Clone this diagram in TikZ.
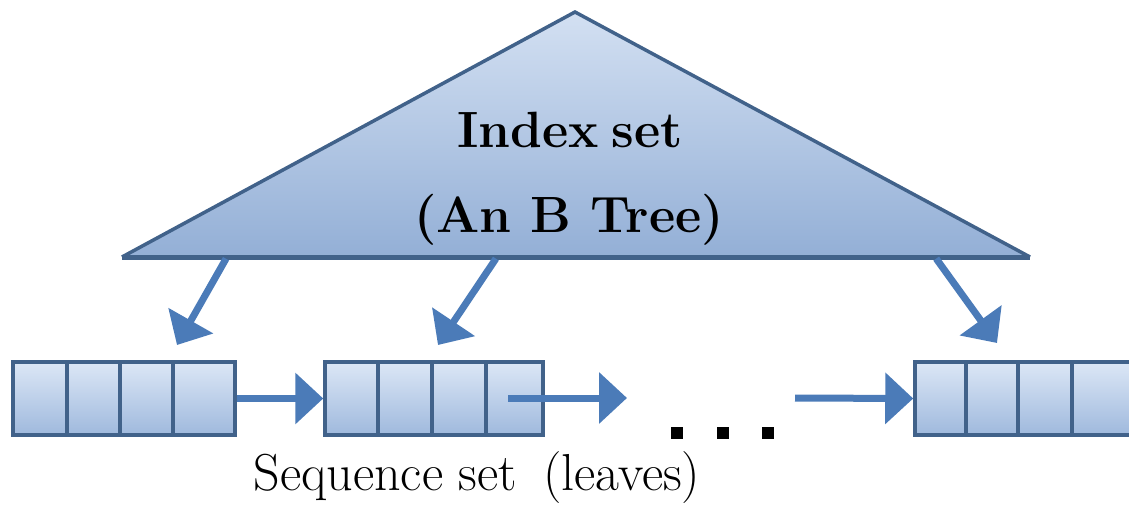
\documentclass[tikz,border=0pt]{standalone}
\usetikzlibrary{arrows.meta}
\definecolor{edgeblue}{HTML}{41628A}
\definecolor{arrowblue}{HTML}{4B7BB8}
\definecolor{filltop}{HTML}{D3E0F2}
\definecolor{fillbot}{HTML}{93AFD6}
\definecolor{celltop}{HTML}{DCE7F6}
\definecolor{cellbot}{HTML}{9FB9DD}
\tikzset{
  leaf/.style={rectangle, draw=edgeblue, line width=3.5pt, top color=celltop,
    bottom color=cellbot, minimum height=73pt, inner sep=0pt},
  divider/.style={draw=edgeblue, line width=3.5pt},
  link/.style={draw=arrowblue, line width=7pt,
    -{Triangle[length=28pt,width=50pt]}},
  dot/.style={rectangle, fill=black, minimum size=12pt, inner sep=0pt},
  title/.style={font=\fontsize{51}{60}\selectfont\bfseries, anchor=base, inner sep=0pt},
  caption/.style={font=\fontsize{52}{60}\selectfont, anchor=base, inner sep=0pt}
}
\begin{document}
\begin{tikzpicture}[x=1pt,y=-1pt]
\useasboundingbox (0,0) rectangle (1129,513);
\clip (0,0) rectangle (1129,513);

% index set: the tree drawn as a triangle
\coordinate (apex) at (575,12);
\coordinate (bl) at (122,257);
\coordinate (br) at (1030,257);
\shade[top color=filltop, bottom color=fillbot] (apex) -- (br) -- (bl) -- cycle;
\draw[edgeblue, line width=3.5pt, line join=miter] (bl) -- (apex) -- (br);
\draw[edgeblue, line width=5pt] (bl) -- (br);
\node[title] (t1) at (570,148) {Index\hspace{-0.12em} set};
\node[title] (t2) at (569,232) {(An B Tree)};

% sequence set: leaf blocks
\node[leaf, minimum width=222pt] (l1) at (124,398.5) {};
\node[leaf, minimum width=218pt] (l2) at (434,398.5) {};
\node[leaf, minimum width=225pt] (l3) at (1027.5,398.5) {};
\foreach \x in {67,120,173} \draw[divider] (\x,362) -- (\x,435);
\foreach \x in {378,432,486} \draw[divider] (\x,362) -- (\x,435);
\foreach \x in {966,1018,1072} \draw[divider] (\x,362) -- (\x,435);

% pointers from the index set down to the leaves
\coordinate (sA) at (227,257);
\coordinate (eA) at (177,345);
\coordinate (sB) at (497,257);
\coordinate (eB) at (438,345);
\coordinate (sC) at (935,257);
\coordinate (eC) at (997,343);
\draw[link, shorten <=2pt] (sA) -- (eA);
\draw[link, shorten <=2pt] (sB) -- (eB);
\draw[link, shorten <=2pt] (sC) -- (eC);

% links between consecutive leaves
\coordinate (s2) at (508,398);
\coordinate (e2) at (627,398);
\coordinate (s3) at (795,398);
\draw[link] (l1.east) -- (l2.west);
\draw[link] (s2) -- (e2);
\draw[link] (s3) -- (l3.west);

% ellipsis
\node[dot] (d1) at (677,433) {};
\node[dot] (d2) at (723,433) {};
\node[dot] (d3) at (768,433) {};

\node[caption] (cap) at (477,490) {Sequence set\hspace{0.2em} (leaves)};
\end{tikzpicture}
\end{document}
